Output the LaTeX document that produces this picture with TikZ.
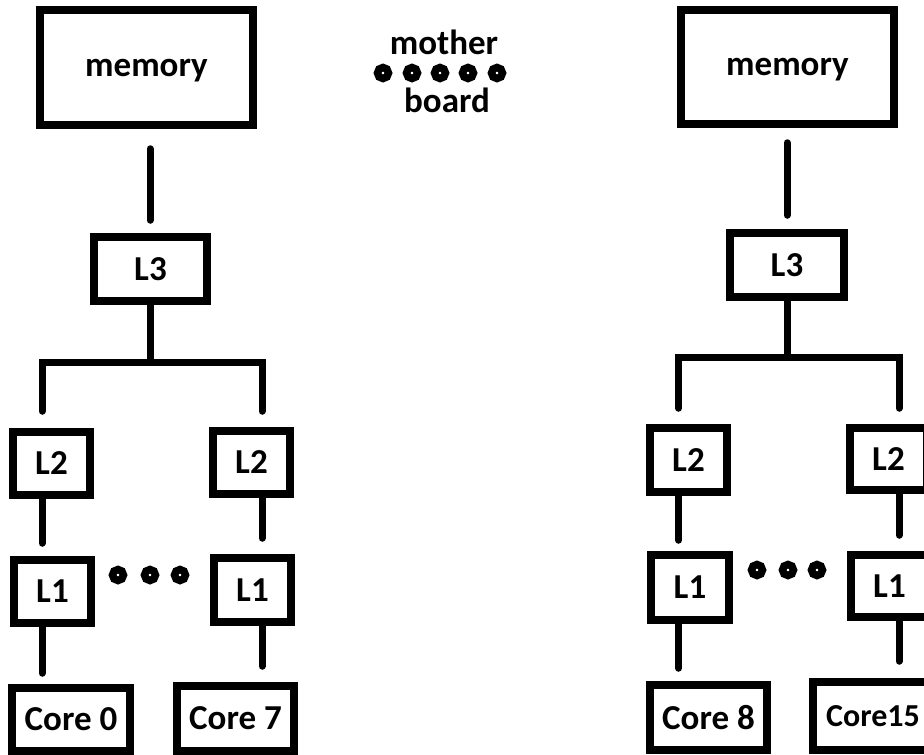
\documentclass[tikz,border=0pt]{standalone}
\usepackage{fontspec}
\setmainfont{Carlito}
\usetikzlibrary{calc}
\tikzset{
  box/.style={draw, line width=7.5pt, inner sep=0pt, fill=white, text depth=0pt,
    font=\fontsize{35}{38}\selectfont\bfseries},
  conn/.style={line width=7pt, line cap=round},
  ring/.style={draw, line width=7.5pt, circle, inner sep=0pt, minimum size=11pt},
  lbl/.style={inner sep=0pt, font=\fontsize{35}{38}\selectfont\bfseries}
}
\begin{document}
\begin{tikzpicture}[x=1pt,y=-1pt]
\useasboundingbox (0,0) rectangle (924,755);
\fill[white] (0,0) rectangle (924,755);
\clip (0,0) rectangle (924,755);

% column coordinates
\coordinate (cA) at (150,0);
\coordinate (c1) at (42,0);
\coordinate (c2) at (262,0);
\coordinate (bA) at (150,362);
\coordinate (cB) at (787,0);
\coordinate (c3) at (678.5,0);
\coordinate (c4) at (899,0);
\coordinate (bB) at (787,357);

% left group
\node[box, minimum width=213pt, minimum height=115pt] (mem1) at (146.5,67.5) {memory};
\node[box, minimum width=113pt, minimum height=64pt] (L3a) at (150.5,269) {L3};
\node[box, minimum width=77pt, minimum height=63pt] (L2a) at (51.5,463.5) {L2};
\node[box, minimum width=77pt, minimum height=63pt] (L2b) at (251.5,462.5) {L2};
\node[box, minimum width=77pt, minimum height=63pt] (L1a) at (52.5,591.5) {L1};
\node[box, minimum width=77pt, minimum height=64pt] (L1b) at (252.5,590) {L1};
\node[box, minimum width=118pt, minimum height=63pt] (C0) at (71,719.5) {Core 0};
\node[box, minimum width=117pt, minimum height=65pt] (C7) at (235.5,718.5) {Core 7};

\draw[conn, shorten <=20pt, shorten >=13pt] (mem1.south -| cA) -- (L3a.north -| cA);
\draw[conn] (L3a.south -| cA) -- (bA);
\draw[conn, shorten <=17pt, shorten >=16pt] (L2a.north -| c1) |- (bA) -| (L2b.north -| c2);
\draw[conn, shorten >=13pt] (L2a.south -| c1) -- (L1a.north -| c1);
\draw[conn, shorten >=16pt] (L2b.south -| c2) -- (L1b.north -| c2);
\draw[conn, shorten >=11pt] (L1a.south -| c1) -- (C0.north -| c1);
\draw[conn, shorten >=16pt] (L1b.south -| c2) -- (C7.north -| c2);

\node[ring] (d1) at (118,575) {};
\node[ring] (d2) at (150,575) {};
\node[ring] (d3) at (180,575) {};

% motherboard
\node[lbl] (mother) at (444,42) {mother};
\node[ring] (m1) at (383,73) {};
\node[ring] (m2) at (412,73) {};
\node[ring] (m3) at (440,73) {};
\node[ring] (m4) at (468,73) {};
\node[ring] (m5) at (497,73) {};
\node[lbl] (board) at (447,100) {board};

% right group
\node[box, minimum width=213pt, minimum height=114pt] (mem2) at (787.5,67) {memory};
\node[box, minimum width=114pt, minimum height=64pt] (L3b) at (787,265) {L3};
\node[box, minimum width=77pt, minimum height=64pt] (L2c) at (688.5,460) {L2};
\node[box, minimum width=77pt, minimum height=62pt] (L2d) at (888.5,459) {L2};
\node[box, minimum width=78pt, minimum height=65pt] (L1c) at (690,587.5) {L1};
\node[box, minimum width=77pt, minimum height=62pt] (L1d) at (889.5,586) {L1};
\node[box, minimum width=117pt, minimum height=65pt] (C8) at (708.5,717.5) {Core 8};
\node[box, minimum width=120pt, minimum height=68pt, font=\fontsize{32}{36}\selectfont\bfseries] (C15) at (873,716) {Core15};

\draw[conn, shorten <=15pt, shorten >=14pt] (mem2.south -| cB) -- (L3b.north -| cB);
\draw[conn] (L3b.south -| cB) -- (bB);
\draw[conn, shorten <=16pt, shorten >=16pt] (L2c.north -| c3) |- (bB) -| (L2d.north -| c4);
\draw[conn, shorten >=11pt] (L2c.south -| c3) -- (L1c.north -| c3);
\draw[conn, shorten >=16pt] (L2d.south -| c4) -- (L1d.north -| c4);
\draw[conn, shorten >=13pt] (L1c.south -| c3) -- (C8.north -| c3);
\draw[conn, shorten >=17pt] (L1d.south -| c4) -- (C15.north -| c4);

\node[ring] (d4) at (757,570) {};
\node[ring] (d5) at (788,570) {};
\node[ring] (d6) at (817,570) {};
\end{tikzpicture}
\end{document}
